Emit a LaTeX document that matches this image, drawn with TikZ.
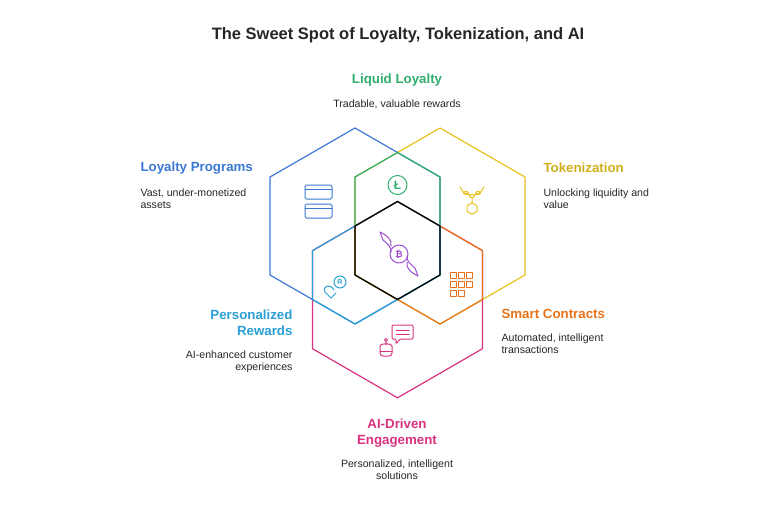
\documentclass[tikz,border=0pt]{standalone}
\usepackage{fontspec}
\setmainfont{Liberation Sans}
\begin{document}
\begin{tikzpicture}[x=1pt,y=-1pt,line join=round,line cap=round,
  hx/.style={line width=1.2pt},
  ic/.style={line width=1pt},
  ttl/.style={font=\bfseries\fontsize{13.3}{16}\selectfont},
  sub/.style={font=\fontsize{10.6}{12.5}\selectfont,text=black!85,align=left}]
\definecolor{cB}{HTML}{3B78D4}\definecolor{cG}{HTML}{2FAE6E}
\definecolor{cY}{HTML}{E8C21E}\definecolor{cO}{HTML}{E6731C}
\definecolor{cC}{HTML}{2A9FD6}\definecolor{cP}{HTML}{D8327F}
\definecolor{cV}{HTML}{9A4FCF}
\useasboundingbox (0,0) rectangle (770,515);
% big hexagons
\draw[hx,cB] (355,128) -- (440,177) -- (440,275) -- (355,324) -- (270,275) -- (270,177) -- cycle;
\draw[hx,cY] (440,128) -- (525,177) -- (525,275) -- (440,324) -- (355,275) -- (355,177) -- cycle;
\draw[hx,cP] (397.5,201.5) -- (482.5,250.6) -- (482.5,348.7) -- (397.5,397.8) -- (312.5,348.7) -- (312.5,250.6) -- cycle;
% pair intersections
\draw[hx,cG] (397.5,152.5) -- (440,177) -- (440,275) -- (397.5,299.5) -- (355,275) -- (355,177) -- cycle;
\draw[hx,cO] (397.5,201.5) -- (482.5,250.6) -- (482.5,299.5) -- (440,324) -- (355,275) -- (355,226) -- cycle;
\draw[hx,cC] (397.5,201.5) -- (312.5,250.6) -- (312.5,299.5) -- (355,324) -- (440,275) -- (440,226) -- cycle;
\draw[hx,black] (397.5,201.5) -- (440,226) -- (440,275) -- (397.5,299.5) -- (355,275) -- (355,226) -- cycle;
% icons
\draw[ic,cB,rounded corners=1.5pt] (305,185) rectangle (332,199) (305,204) rectangle (332,218);
\draw[ic,cB] (305,189) -- (332,189) (305,208) -- (332,208);
\draw[ic,cG] (397.5,185) circle (9.5);
\node[cG,font=\bfseries\fontsize{12}{12}\selectfont] (ltc) at (397.5,185.5) {Ł};
\draw[ic,cY] (460,187) -- (464,193) -- (470,195) (474,195) -- (480,193) -- (484,187)
  (472,198) -- (472,203);
\draw[ic,cY] (466,193) ellipse (2.5 and 1.5) (472,196) ellipse (2.5 and 1.5) (478,193) ellipse (2.5 and 1.5);
\draw[ic,cY] (472,203) -- ++(5,2.8) -- ++(0,5.6) -- ++(-5,2.8) -- ++(-5,-2.8) -- ++(0,-5.6) -- cycle;
\draw[ic,cV] (399,254) circle (9);
\node[cV,font=\bfseries\fontsize{9}{9}\selectfont] (btc) at (399,254) {₿};
\draw[ic,cV] (380,232) .. controls (388,236) and (392,240) .. (391,246) (383,240) .. controls (388,244) and (392,248) .. (391,252)
  (380,232) -- (383,240)
  (418,276) .. controls (410,272) and (406,268) .. (407,262) (415,268) .. controls (410,264) and (406,260) .. (407,256)
  (418,276) -- (415,268);
\draw[ic,cC] (340,282) circle (6);
\node[cC,font=\bfseries\fontsize{7}{7}\selectfont] (rw) at (340,282) {R};
\draw[ic,cC] (334,290) .. controls (330,283) and (322,286) .. (325,292) -- (331,298) -- (336,293);
\draw[ic,cO] (450,272) rectangle (456,278) (458,272) rectangle (464,278)
  (450,281) rectangle (456,287) (458,281) rectangle (464,287) (466,281) rectangle (472,287)
  (450,290) rectangle (456,296) (458,290) rectangle (464,296) (466,272) rectangle (472,278);
\draw[ic,cP,rounded corners=1pt] (392,325) -- (413,325) -- (413,339) -- (400,339) -- (396,344) -- (396,339) -- (392,339) -- cycle;
\draw[ic,cP] (396,330) -- (409,330) (396,334) -- (409,334);
\draw[ic,cP] (386,340) circle (1.5) (386,341.5) -- (386,345);
\draw[ic,cP,rounded corners=3pt] (380,356) -- (380,349) .. controls (380,343) and (392,343) .. (392,349) -- (392,356) -- cycle;
\draw[ic,cP] (380,351) -- (392,351);
% texts
\node[font=\bfseries\fontsize{16.5}{20}\selectfont,text=black!85] (title) at (398,35) {The Sweet Spot of Loyalty, Tokenization, and AI};
\node[ttl,text=cG] (t1) at (397,80) {Liquid Loyalty};
\node[sub] (s1) at (397,104) {Tradable, valuable rewards};
\node[ttl,text=cB,anchor=west] (t2) at (137,168) {Loyalty Programs};
\node[sub,anchor=north west] (s2) at (137,185) {Vast, under-monetized\\assets};
\node[ttl,text=cY!90!black,anchor=west] (t3) at (540,168) {Tokenization};
\node[sub,anchor=north west] (s3) at (540,185) {Unlocking liquidity and\\value};
\node[ttl,text=cC,anchor=north east,align=right] (t4) at (296,306) {Personalized\\Rewards};
\node[sub,anchor=north east,align=right] (s4) at (296,347) {AI-enhanced customer\\experiences};
\node[ttl,text=cO,anchor=west] (t5) at (498,314) {Smart Contracts};
\node[sub,anchor=north west] (s5) at (498,330) {Automated, intelligent\\transactions};
\node[ttl,text=cP,align=center,anchor=north] (t6) at (397,415) {AI-Driven\\Engagement};
\node[sub,align=center,anchor=north] (s6) at (397,456) {Personalized, intelligent\\solutions};
\end{tikzpicture}
\end{document}
